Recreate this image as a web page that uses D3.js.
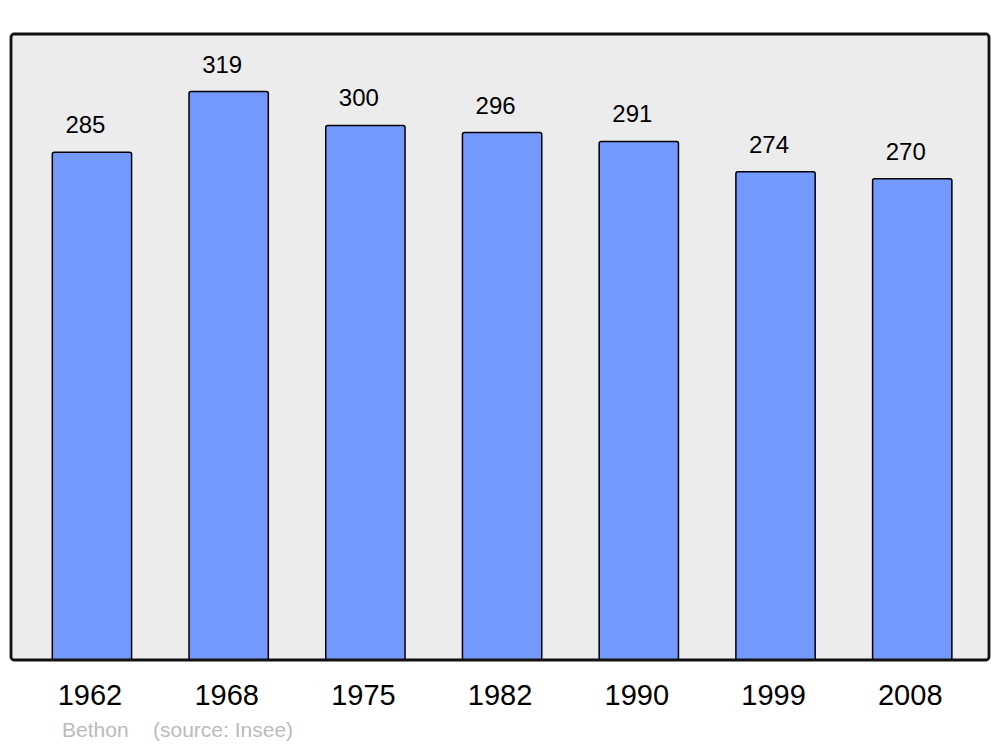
<!DOCTYPE html>
<html>
<head>
<meta charset="utf-8">
<script src="https://cdn.jsdelivr.net/npm/d3@7"></script>
<style>
  body { margin: 0; background: #fff; }
  text { font-family: "Liberation Sans", Arial, sans-serif; }
</style>
</head>
<body>
<div id="chart"></div>
<script>
// data
var years = ["1962", "1968", "1975", "1982", "1990", "1999", "2008"];
var population = [285, 319, 300, 296, 291, 274, 270];
var town = "Bethon";
var source = "(source: Insee)";

var W = 1000, H = 747;
var frame = {left: 11, top: 34, right: 989, bottom: 660};

var svg = d3.select("#chart").append("svg")
    .attr("width", W)
    .attr("height", H);

// plot background
svg.append("rect")
    .attr("x", frame.left)
    .attr("y", frame.top)
    .attr("width", frame.right - frame.left)
    .attr("height", frame.bottom - frame.top)
    .attr("rx", 3)
    .attr("fill", "#ececec");

var x = d3.scaleBand()
    .domain(years)
    .range([23.6, 980.6])
    .paddingInner(0.42)
    .paddingOuter(0.21);

var y = d3.scaleLinear()
    .domain([0, 351.3])
    .range([frame.bottom, frame.top]);

var data = years.map(function(d, i) { return {year: d, value: population[i]}; });

// bars
svg.append("g")
  .selectAll("rect")
  .data(data)
  .join("rect")
    .attr("x", d => x(d.year))
    .attr("y", d => y(d.value))
    .attr("width", x.bandwidth())
    .attr("height", d => y(0) - y(d.value))
    .attr("rx", 2)
    .attr("fill", "#7399ff")
    .attr("stroke", "#000")
    .attr("stroke-width", 1.5);

// value labels (sit a bit left of bar centre, like the original)
svg.append("g")
  .selectAll("text")
  .data(data)
  .join("text")
    .attr("x", d => x(d.year) + x.bandwidth() / 2 - 6.5)
    .attr("y", d => y(d.value) - 19)
    .attr("text-anchor", "middle")
    .attr("font-size", 24)
    .attr("fill", "#000")
    .text(d => d.value);

// frame border on top
svg.append("rect")
    .attr("x", frame.left)
    .attr("y", frame.top)
    .attr("width", frame.right - frame.left)
    .attr("height", frame.bottom - frame.top)
    .attr("rx", 3)
    .attr("fill", "none")
    .attr("stroke", "#111")
    .attr("stroke-width", 2.8);

// x axis labels
var xAxis = svg.append("g")
    .attr("transform", "translate(-2," + frame.bottom + ")")
    .call(d3.axisBottom(x).tickSize(0).tickPadding(0));
xAxis.select(".domain").remove();
xAxis.selectAll("text")
    .attr("y", 45)
    .attr("dy", null)
    .attr("font-size", 29)
    .attr("font-family", "Liberation Sans, Arial, sans-serif")
    .attr("fill", "#000");

// footer
svg.append("text")
    .attr("x", 62)
    .attr("y", 737)
    .attr("font-size", 21)
    .attr("fill", "#bbb")
    .text(town);
svg.append("text")
    .attr("x", 153)
    .attr("y", 737)
    .attr("font-size", 21)
    .attr("fill", "#bbb")
    .text(source);
</script>
</body>
</html>
